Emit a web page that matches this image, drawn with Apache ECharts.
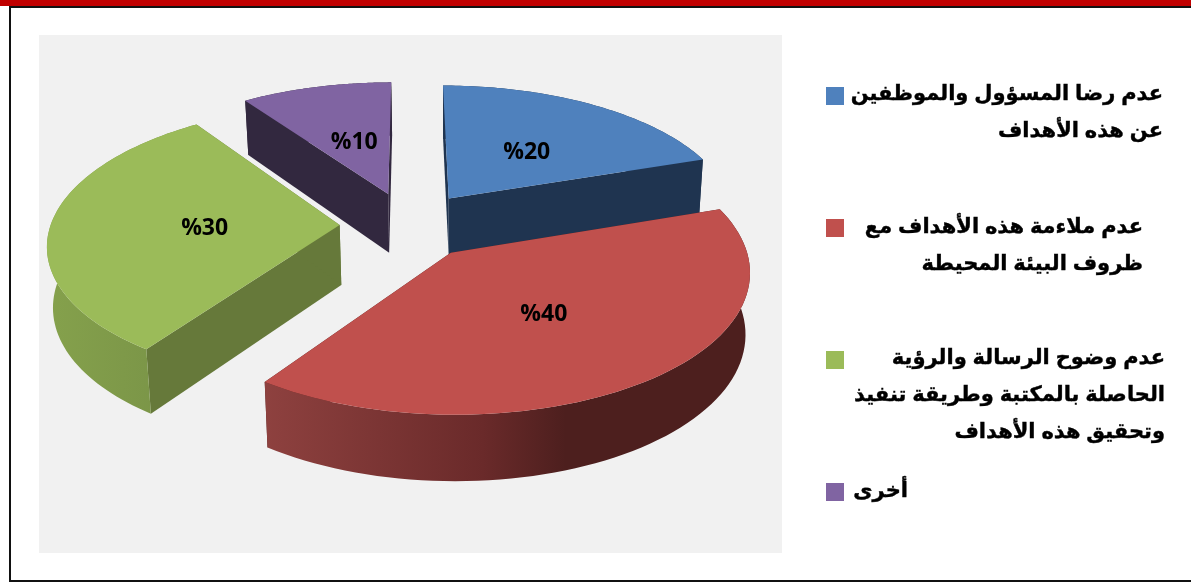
<!DOCTYPE html>
<html>
<head>
<meta charset="utf-8">
<style>html,body{margin:0;padding:0;background:#fff}#c{width:1191px;height:583px}</style>
<script src="https://cdn.jsdelivr.net/npm/echarts@6/dist/echarts.min.js"></script>
</head>
<body>
<div id="c"></div>
<script>
// Data
var values = [20, 40, 30, 10];
var categories = [
  ['عدم رضا المسؤول والموظفين', 'عن هذه الأهداف'],
  ['عدم ملاءمة هذه الأهداف مع', 'ظروف البيئة المحيطة'],
  ['عدم وضوح الرسالة والرؤية', 'الحاصلة بالمكتبة وطريقة تنفيذ', 'وتحقيق هذه الأهداف'],
  ['أخرى']
];
// Styles
var topColors = ['#4F81BD', '#C0504D', '#9BBB59', '#8064A2'];
var wallColors = ['#1F3450', '#4D1F1E', '#66793A', '#32283F'];
var rimStops = [
  [[0, '#1F3450'], [1, '#1F3450']],
  [[0, '#8E413F'], [0.45, '#6A2A2A'], [0.62, '#4D1F1E'], [1, '#4D1F1E']],
  [[0, '#85A14C'], [1, '#779146']],
  [[0, '#32283F'], [1, '#32283F']]
];
var labelOffsets = [[78, -46], [93, 62], [-135, 3], [-34, -52]];
var legendSquareTop = [87, 219, 351, 483];
var legendTextRight = [1163, 1143, 1165, 908];
var legendTextShift = [-1, 0, -1, 0];
var legendLineHeight = 37;
// Layout of the projected pie
var CENTER = [409, 225], RX = 289, RY = 140, PERSP_A = 0.133, PERSP_B = 0.028;
var DEPTH = 60, DEPTH_PERSP = 0.09, EXPLODE = 0.24, BASE_AXIS = 450, BASE_SCALE = 0.985;

function project(u, v) {
  var w = 1 + PERSP_A * v + PERSP_B * v * v;
  return [CENTER[0] + RX * u / w, CENTER[1] - RY * v / w];
}
function dropped(p, v) {
  return [BASE_AXIS + (p[0] - BASE_AXIS) * BASE_SCALE, p[1] + DEPTH * (1 - DEPTH_PERSP * v)];
}

var total = values.reduce(function (a, b) { return a + b; }, 0);

function renderSlice(params, api) {
  var i = params.dataIndex;
  var before = 0;
  for (var k = 0; k < i; k++) before += values[k];
  var a0 = before / total * Math.PI * 2;
  var a1 = (before + api.value(0)) / total * Math.PI * 2;
  var mid = (a0 + a1) / 2;
  var ex = EXPLODE * Math.sin(mid), ey = EXPLODE * Math.cos(mid);
  var apexTop = project(ex, ey), apexBot = dropped(apexTop, ey);

  var rimTop = [], rimBot = [];
  var steps = 72;
  for (var s = 0; s <= steps; s++) {
    var t = a0 + (a1 - a0) * s / steps;
    var u = ex + Math.sin(t), v = ey + Math.cos(t);
    var p = project(u, v);
    rimTop.push(p);
    rimBot.push(dropped(p, v));
  }
  var children = [];
  function poly(points, fill) {
    children.push({ type: 'polygon', shape: { points: points }, style: { fill: fill } });
  }
  poly([apexTop, rimTop[0], rimBot[0], apexBot], wallColors[i]);
  poly([apexTop, rimTop[steps], rimBot[steps], apexBot], wallColors[i]);
  poly(rimTop.concat(rimBot.slice().reverse()),
    new echarts.graphic.LinearGradient(0, 0, 1, 0, rimStops[i].map(function (c) {
      return { offset: c[0], color: c[1] };
    })));
  poly([apexTop].concat(rimTop), topColors[i]);
  children.push({
    type: 'text',
    style: {
      x: apexTop[0] + labelOffsets[i][0], y: apexTop[1] + labelOffsets[i][1],
      text: '%' + api.value(0),
      align: 'center', verticalAlign: 'middle',
      font: 'bold 23px "Open Sans", sans-serif', fill: '#000'
    },
    z2: 10
  });
  return { type: 'group', children: children };
}

var graphics = [
  { type: 'rect', shape: { x: 0, y: 0, width: 1191, height: 6 }, style: { fill: '#C00000' }, z: 2 },
  { type: 'rect', shape: { x: 10, y: 7, width: 1200, height: 574 }, style: { fill: 'none', stroke: '#111', lineWidth: 2 }, z: 1 },
  { type: 'rect', shape: { x: 39, y: 35, width: 743, height: 518 }, style: { fill: '#F1F1F1' }, z: -1 }
];
categories.forEach(function (lines, i) {
  graphics.push({ type: 'rect', shape: { x: 826, y: legendSquareTop[i], width: 18, height: 18 }, style: { fill: topColors[i] } });
  lines.forEach(function (line, j) {
    graphics.push({
      type: 'text',
      style: {
        x: legendTextRight[i], y: legendSquareTop[i] + 8 + legendTextShift[i] + j * legendLineHeight,
        text: line, align: 'right', verticalAlign: 'middle',
        font: 'bold 21px "Liberation Sans", "DejaVu Sans", sans-serif',
        fill: '#000', stroke: '#000', lineWidth: 0.4
      }
    });
  });
});

var chart = echarts.init(document.getElementById('c'), null, { renderer: 'canvas' });
chart.setOption({
  animation: false,
  backgroundColor: '#fff',
  graphic: { elements: graphics },
  series: [{
    type: 'custom',
    coordinateSystem: 'none',
    silent: true,
    renderItem: renderSlice,
    data: values.map(function (v, i) { return { name: categories[i].join(' '), value: [v] }; })
  }]
});
</script>
</body>
</html>
